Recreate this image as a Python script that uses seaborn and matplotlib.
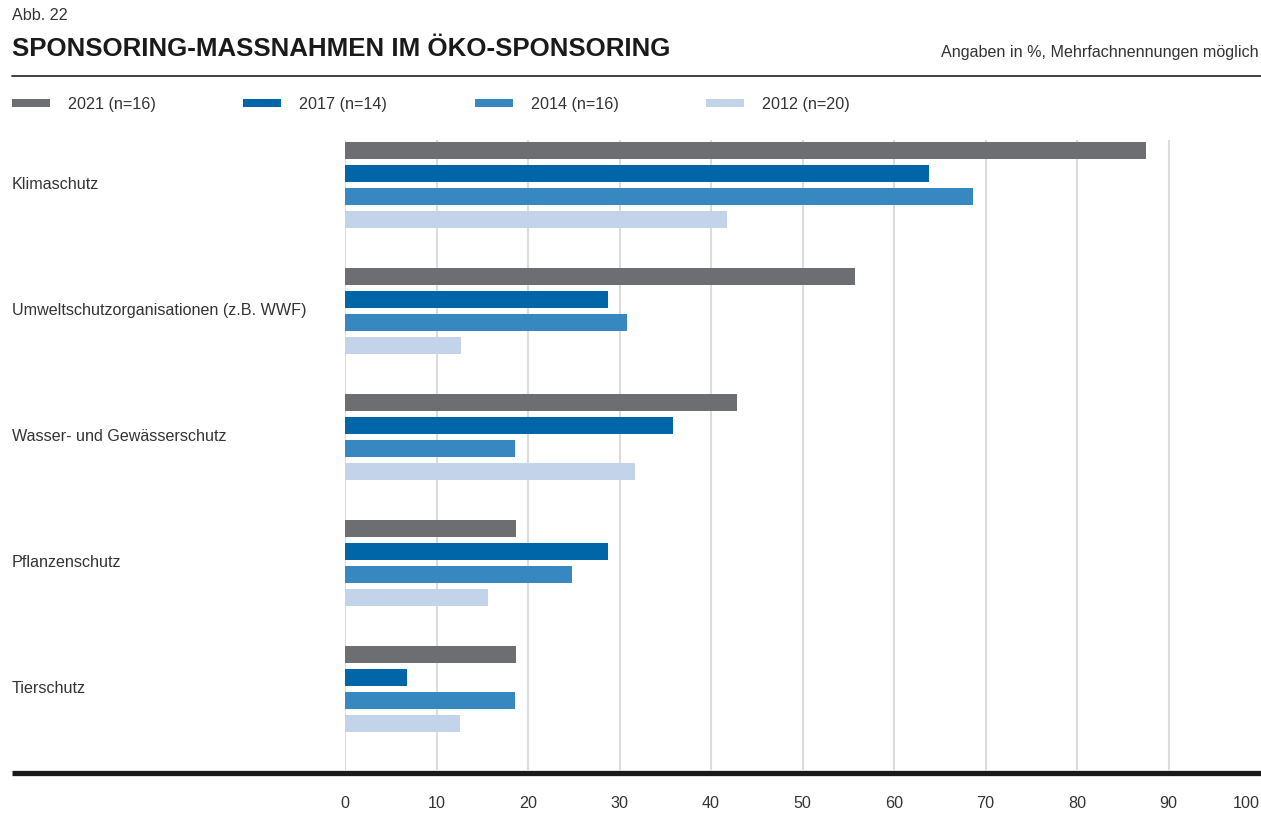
import matplotlib
matplotlib.use("Agg")
import matplotlib.pyplot as plt
import seaborn as sns
import pandas as pd
from matplotlib.transforms import blended_transform_factory
from matplotlib.lines import Line2D
from matplotlib.patches import Rectangle

categories = ["Klimaschutz", "Umweltschutzorganisationen (z.B. WWF)",
              "Wasser- und Gewässerschutz", "Pflanzenschutz", "Tierschutz"]
series = ["2021 (n=16)", "2017 (n=14)", "2014 (n=16)", "2012 (n=20)"]
v2021 = [87.5, 55.7, 42.8, 18.7, 18.7]
v2017 = [63.8, 28.7, 35.8, 28.7, 6.8]
v2014 = [68.6, 30.8, 18.6, 24.8, 18.6]
v2012 = [41.7, 12.7, 31.7, 15.6, 12.6]
colors = ["#6d6e72", "#0066a8", "#3787c0", "#c3d3e9"]
ticks = [0, 10, 20, 30, 40, 50, 60, 70, 80, 90, 100]

rows = []
for s, vals in zip(series, [v2021, v2017, v2014, v2012]):
    for c, v in zip(categories, vals):
        rows.append({"cat": c, "series": s, "value": v})
df = pd.DataFrame(rows)

sns.set_theme(style="white")
plt.rcParams["font.family"] = ["Liberation Sans", "DejaVu Sans"]

FS = 11.6
TXT = "#333333"
W, H = 1261, 814
fig = plt.figure(figsize=(W / 100, H / 100), dpi=100)
ax_left, ax_right, ax_top, ax_bot = 345, 1260, 140, 770
ax = fig.add_axes([ax_left / W, 1 - ax_bot / H, (ax_right - ax_left) / W, (ax_bot - ax_top) / H])

sns.barplot(data=df, y="cat", x="value", hue="series", order=categories,
            hue_order=series, palette=colors, orient="h", width=0.73, gap=0.3,
            saturation=1, legend=False, linewidth=0, ax=ax)

ax.set_xlim(0, 100)
ax.set_ylim(4.643, -0.357)
ax.set_xticks(ticks)
labels = ax.set_xticklabels([str(t) for t in ticks], fontsize=FS, color=TXT)
labels[-1].set_horizontalalignment("right")
ax.tick_params(axis="x", length=0, pad=19)
ax.set_yticks([])
ax.set_xlabel("")
ax.set_ylabel("")
for sp in ax.spines.values():
    sp.set_visible(False)
ax.grid(False)
for t in ticks[:-1]:
    ax.axvline(t, color="#dcdcdc", linewidth=1.5, zorder=0)

# category labels
tr = blended_transform_factory(fig.transFigure, ax.transData)
for i, c in enumerate(categories):
    ax.text(12 / W, i, c, transform=tr, ha="left", va="center", fontsize=FS, color=TXT)

# header
fig.text(12 / W, 1 - 15 / H, "Abb. 22", ha="left", va="center", fontsize=FS, color=TXT)
fig.text(12 / W, 1 - 49 / H, "SPONSORING-MASSNAHMEN IM ÖKO-SPONSORING", ha="left", va="center",
         fontsize=18.6, fontweight="bold", color="#1a1a1a")
fig.text(1259 / W, 1 - 53 / H, "Angaben in %, Mehrfachnennungen möglich", ha="right", va="center",
         fontsize=FS, color=TXT)
fig.add_artist(Line2D([12 / W, 1], [1 - 76 / H, 1 - 76 / H], transform=fig.transFigure,
                      color="#333333", linewidth=1.3))

# legend
lx = [12, 243, 475, 706]
for x0, s, col in zip(lx, series, colors):
    fig.add_artist(Rectangle((x0 / W, 1 - 107 / H), 38 / W, 8 / H, transform=fig.transFigure,
                             facecolor=col, edgecolor="none"))
    fig.text((x0 + 56) / W, 1 - 104 / H, s, ha="left", va="center", fontsize=FS, color=TXT)

# thick baseline
fig.add_artist(Line2D([12 / W, 1], [1 - 773 / H, 1 - 773 / H], transform=fig.transFigure,
                      color="#1a1a1a", linewidth=3.8, solid_capstyle="butt"))

fig.savefig("out.png", dpi=100, facecolor="white")
